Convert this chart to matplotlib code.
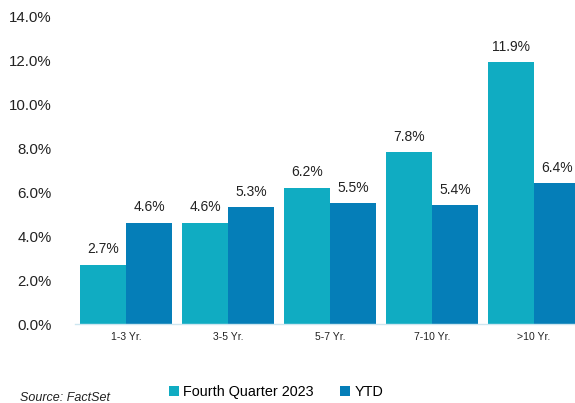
import matplotlib.pyplot as plt
import numpy as np

categories = ['1-3 Yr.', '3-5 Yr.', '5-7 Yr.', '7-10 Yr.', '>10 Yr.']
q4_2023 = [2.7, 4.6, 6.2, 7.8, 11.9]
ytd = [4.6, 5.3, 5.5, 5.4, 6.4]
yticks = [0, 2, 4, 6, 8, 10, 12, 14]

plt.rcParams['font.family'] = ['Liberation Sans', 'DejaVu Sans']

fig = plt.figure(figsize=(5.75, 4.03), dpi=100)
ax = fig.add_axes([75 / 575, 79 / 403, 500 / 575, 308 / 403])

x = np.arange(len(categories))
w = 0.45
b1 = ax.bar(x - w / 2, q4_2023, w, color='#10acc2', label='Fourth Quarter 2023')
b2 = ax.bar(x + w / 2, ytd, w, color='#057eb8', label='YTD')

for bars in (b1, b2):
    for rect in bars:
        h = rect.get_height()
        ax.annotate('{:.1f}%'.format(h), (rect.get_x() + rect.get_width() / 2, h),
                    xytext=(0, 6), textcoords='offset points',
                    ha='center', va='bottom', fontsize=10, color='#222222')

ax.set_xlim(-0.5, (575 - 126) / 102)
ax.set_ylim(0, 14)
ax.set_yticks(yticks)
ax.set_yticklabels(['{:.1f}%'.format(v) for v in yticks], fontsize=10.8, color='#222222')
ax.set_xticks(x)
ax.set_xticklabels(categories, fontsize=7.5, color='#222222')
ax.tick_params(axis='both', length=0)
ax.tick_params(axis='y', pad=17)
ax.tick_params(axis='x', pad=6)
for s in ['top', 'right', 'left']:
    ax.spines[s].set_visible(False)
ax.spines['bottom'].set_color('#cde6f0')
ax.spines['bottom'].set_linewidth(1)

fig.legend(handles=[b1, b2], loc='center', bbox_to_anchor=(276 / 575, 1 - 392 / 403),
           ncol=2, frameon=False, fontsize=10.4, handlelength=0.7, handleheight=0.7,
           handletextpad=0.3, columnspacing=1.8)
fig.text(20 / 575, 1 - 398 / 403, 'Source: FactSet', fontsize=9, style='italic',
         color='#222222', va='center')

fig.savefig('out.png', dpi=100)
